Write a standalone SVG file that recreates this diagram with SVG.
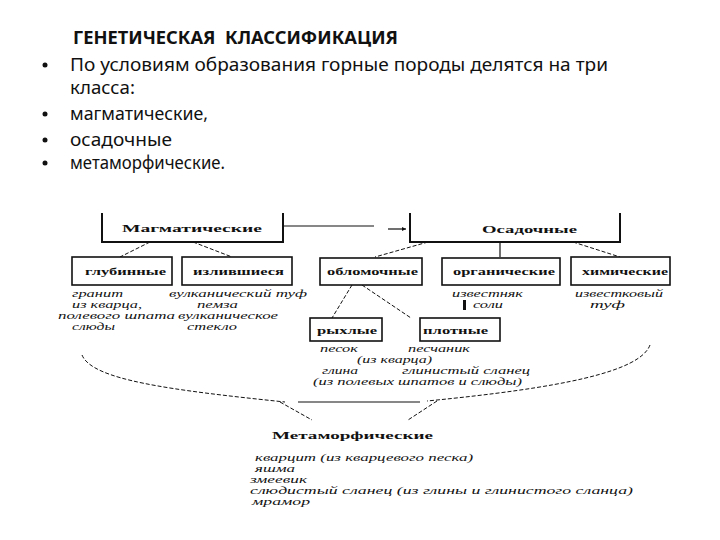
<svg xmlns="http://www.w3.org/2000/svg" width="720" height="540" viewBox="0 0 720 540">
<style>
.t{font-family:"Noto Sans","Open Sans","Liberation Sans",sans-serif;fill:#111}
.h{font-family:"Liberation Serif","DejaVu Serif",serif;font-weight:bold;fill:#111;font-size:11px}
.i{font-family:"Liberation Serif","DejaVu Serif",serif;font-style:italic;fill:#111;font-size:10px}
.box{fill:#fff;stroke:#111;stroke-width:1.6}
.br{fill:none;stroke:#111;stroke-width:2}
.d{fill:none;stroke:#111;stroke-width:1;stroke-dasharray:4 2}
.s{fill:none;stroke:#111;stroke-width:1.2}
</style>
<rect width="720" height="540" fill="#fff"/>
<g id="heading">
<text class="t" x="73" y="44" font-size="17" font-weight="bold" textLength="325" lengthAdjust="spacingAndGlyphs">ГЕНЕТИЧЕСКАЯ&#160; КЛАССИФИКАЦИЯ</text>
<circle cx="45" cy="65" r="2.5" fill="#111"/>
<text class="t" x="70" y="71" font-size="18" textLength="538" lengthAdjust="spacingAndGlyphs">По условиям образования горные породы делятся на три</text>
<text class="t" x="70" y="94" font-size="18" textLength="65" lengthAdjust="spacingAndGlyphs">класса:</text>
<circle cx="45" cy="114" r="2.5" fill="#111"/>
<text class="t" x="70" y="120" font-size="18" textLength="138" lengthAdjust="spacingAndGlyphs">магматические,</text>
<circle cx="45" cy="140" r="2.5" fill="#111"/>
<text class="t" x="70" y="146" font-size="18" textLength="102" lengthAdjust="spacingAndGlyphs">осадочные</text>
<circle cx="45" cy="163" r="2.5" fill="#111"/>
<text class="t" x="70" y="169" font-size="18" textLength="155" lengthAdjust="spacingAndGlyphs">метаморфические.</text>
</g>
<g id="connectors">
<line class="s" x1="283" y1="226" x2="374" y2="226"/>
<line class="s" x1="388" y1="229" x2="406" y2="229"/>
<path d="M406,229 l-4,-2 v4 z" fill="#111"/>
<line class="d" x1="150" y1="242" x2="120" y2="257"/>
<line class="d" x1="193" y1="242" x2="232" y2="257"/>
<line class="d" x1="428" y1="242" x2="375" y2="257"/>
<line class="s" x1="500" y1="242" x2="500" y2="257" stroke-width="2"/>
<line class="d" x1="573" y1="242" x2="620" y2="257"/>
<line class="d" x1="352" y1="285" x2="332" y2="318"/>
<line class="d" x1="362" y1="285" x2="411" y2="318"/>
<path class="d" d="M82,355 C92,380 170,390 285,402" stroke-dasharray="9 3"/>
<line class="s" x1="298" y1="402" x2="420" y2="402"/>
<path class="d" d="M650,345 C640,372 560,388 427,401" stroke-dasharray="9 3"/>
<line class="d" x1="280" y1="402" x2="312" y2="420"/>
<line class="d" x1="437" y1="401" x2="408" y2="420"/>
</g>
<g id="magmatic">
<path class="br" d="M102,213 V242 H283 V213"/>
<text class="h" x="122" y="232" font-size="12" textLength="140" lengthAdjust="spacingAndGlyphs">Магматические</text>
</g>
<g id="sedimentary">
<path class="br" d="M410,213 V242 H620 V213"/>
<text class="h" x="482" y="233" font-size="12" textLength="95" lengthAdjust="spacingAndGlyphs">Осадочные</text>
</g>
<g id="deep">
<rect class="box" x="72" y="257" width="100" height="28"/>
<text class="h" x="85" y="275" textLength="81" lengthAdjust="spacingAndGlyphs">глубинные</text>
<text class="i" x="72" y="297" textLength="51" lengthAdjust="spacingAndGlyphs">гранит</text>
<text class="i" x="72" y="308" textLength="70" lengthAdjust="spacingAndGlyphs">из кварца,</text>
<text class="i" x="58" y="319" textLength="117" lengthAdjust="spacingAndGlyphs">полевого шпата</text>
<text class="i" x="72" y="330" textLength="43" lengthAdjust="spacingAndGlyphs">слюды</text>
</g>
<g id="effusive">
<rect class="box" x="182" y="257" width="110" height="28"/>
<text class="h" x="193" y="275" textLength="91" lengthAdjust="spacingAndGlyphs">излившиеся</text>
<text class="i" x="169" y="297" textLength="138" lengthAdjust="spacingAndGlyphs">вулканический туф</text>
<text class="i" x="197" y="308" textLength="41" lengthAdjust="spacingAndGlyphs">пемза</text>
<text class="i" x="178" y="319" textLength="100" lengthAdjust="spacingAndGlyphs">вулканическое</text>
<text class="i" x="187" y="330" textLength="50" lengthAdjust="spacingAndGlyphs">стекло</text>
</g>
<g id="clastic">
<rect class="box" x="320" y="258" width="102" height="27"/>
<text class="h" x="327" y="275" textLength="91" lengthAdjust="spacingAndGlyphs">обломочные</text>
</g>
<g id="organic">
<rect class="box" x="442" y="258" width="118" height="27"/>
<text class="h" x="453" y="275" textLength="102" lengthAdjust="spacingAndGlyphs">органические</text>
<text class="i" x="452" y="297" textLength="71" lengthAdjust="spacingAndGlyphs">известняк</text>
<rect x="463" y="300" width="3" height="10" fill="#111"/>
<text class="i" x="473" y="308" textLength="30" lengthAdjust="spacingAndGlyphs">соли</text>
</g>
<g id="chemical">
<rect class="box" x="571" y="257" width="99" height="28"/>
<text class="h" x="582" y="275" textLength="86" lengthAdjust="spacingAndGlyphs">химические</text>
<text class="i" x="575" y="297" textLength="88" lengthAdjust="spacingAndGlyphs">известковый</text>
<text class="i" x="590" y="308" textLength="35" lengthAdjust="spacingAndGlyphs">туф</text>
</g>
<g id="loose">
<rect class="box" x="310" y="318" width="72" height="23"/>
<text class="h" x="317" y="334" textLength="60" lengthAdjust="spacingAndGlyphs">рыхлые</text>
</g>
<g id="dense">
<rect class="box" x="420" y="318" width="80" height="23"/>
<text class="h" x="423" y="334" textLength="65" lengthAdjust="spacingAndGlyphs">плотные</text>
</g>
<g id="clastic-examples">
<text class="i" x="320" y="352" textLength="38" lengthAdjust="spacingAndGlyphs">песок</text>
<text class="i" x="408" y="352" textLength="62" lengthAdjust="spacingAndGlyphs">песчаник</text>
<text class="i" x="357" y="363" textLength="75" lengthAdjust="spacingAndGlyphs">(из кварца)</text>
<text class="i" x="322" y="374" textLength="36" lengthAdjust="spacingAndGlyphs">глина</text>
<text class="i" x="402" y="374" textLength="128" lengthAdjust="spacingAndGlyphs">глинистый сланец</text>
<text class="i" x="313" y="385" textLength="209" lengthAdjust="spacingAndGlyphs">(из полевых шпатов и слюды)</text>
</g>
<g id="metamorphic">
<text class="h" x="272" y="439" font-size="13" textLength="161" lengthAdjust="spacingAndGlyphs">Метаморфические</text>
<text class="i" x="255" y="461" textLength="218" lengthAdjust="spacingAndGlyphs">кварцит (из кварцевого песка)</text>
<text class="i" x="255" y="472" textLength="40" lengthAdjust="spacingAndGlyphs">яшма</text>
<text class="i" x="250" y="483" textLength="57" lengthAdjust="spacingAndGlyphs">змеевик</text>
<text class="i" x="250" y="494" textLength="383" lengthAdjust="spacingAndGlyphs">слюдистый сланец (из глины и глинистого сланца)</text>
<text class="i" x="252" y="505" textLength="58" lengthAdjust="spacingAndGlyphs">мрамор</text>
</g>
</svg>
